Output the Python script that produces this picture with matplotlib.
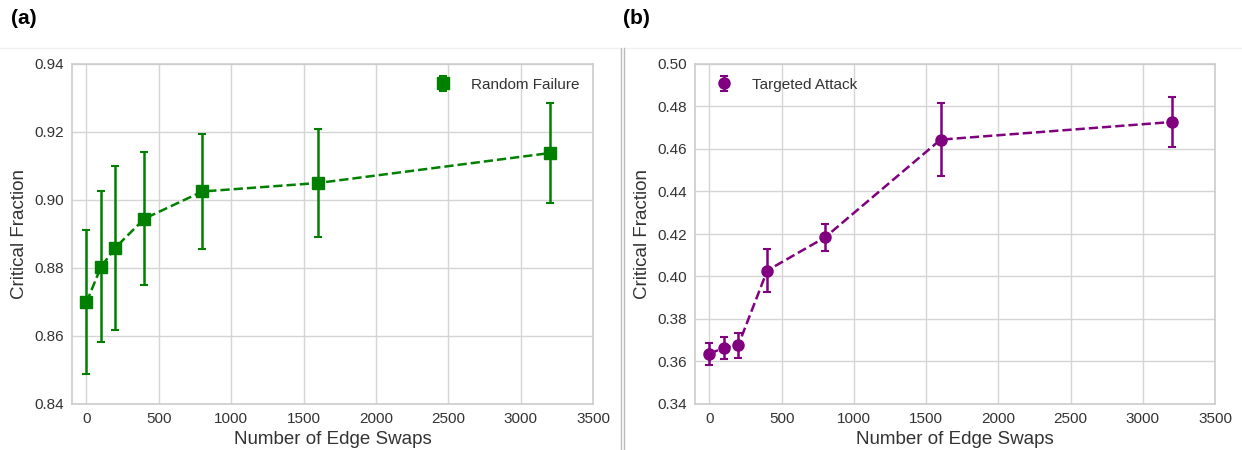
import matplotlib
matplotlib.use("Agg")
import matplotlib.pyplot as plt
from matplotlib.lines import Line2D

swaps = [0, 100, 200, 400, 800, 1600, 3200]
random_mean = [0.8699, 0.8803, 0.8860, 0.8945, 0.9025, 0.9050, 0.9138]
random_err = [0.0212, 0.0222, 0.0241, 0.0196, 0.0169, 0.0158, 0.0147]
targeted_mean = [0.3636, 0.3665, 0.3677, 0.4028, 0.4184, 0.4644, 0.4727]
targeted_err = [0.0052, 0.0052, 0.0059, 0.0102, 0.0063, 0.0172, 0.0118]

xticks = [0, 500, 1000, 1500, 2000, 2500, 3000, 3500]
yticks_a = [0.84, 0.86, 0.88, 0.90, 0.92, 0.94]
yticks_b = [0.34, 0.36, 0.38, 0.40, 0.42, 0.44, 0.46, 0.48, 0.50]

plt.rcParams['font.family'] = ['Liberation Sans', 'DejaVu Sans']

fig = plt.figure(figsize=(12.42, 4.5), dpi=100)
fig.patch.set_facecolor('white')

W, H = 1242, 450
ax_a = fig.add_axes([72 / W, 1 - 404 / H, 521 / W, 340 / H])
ax_b = fig.add_axes([695 / W, 1 - 404 / H, 520 / W, 340 / H])

def style(ax, yticks):
    ax.set_facecolor('white')
    ax.set_xlim(-100, 3500)
    ax.set_xticks(xticks)
    ax.set_yticks(yticks)
    ax.set_yticklabels([f"{v:.2f}" for v in yticks])
    ax.set_ylim(yticks[0], yticks[-1])
    ax.grid(True, color='#d5d5d5', linewidth=1.0)
    ax.set_axisbelow(True)
    for s in ax.spines.values():
        s.set_color('#cccccc')
        s.set_linewidth(1.2)
    ax.tick_params(length=0, labelsize=11, colors='#333333', pad=6)
    ax.set_xlabel('Number of Edge Swaps', fontsize=13.5, color='#333333', labelpad=3)
    ax.set_ylabel('Critical Fraction', fontsize=13.5, color='#333333', labelpad=4)

style(ax_a, yticks_a)
style(ax_b, yticks_b)

ax_a.plot(swaps, random_mean, color='green', linestyle='--', linewidth=1.8)
ax_a.errorbar(swaps, random_mean, yerr=random_err, color='green', fmt='s',
              markersize=8, capsize=3, elinewidth=1.8, capthick=1.5,
              label='Random Failure')
ax_b.plot(swaps, targeted_mean, color='purple', linestyle='--', linewidth=1.8)
ax_b.errorbar(swaps, targeted_mean, yerr=targeted_err, color='purple', fmt='o',
              markersize=8, capsize=3, elinewidth=1.8, capthick=1.5,
              label='Targeted Attack')

la = ax_a.legend(loc='upper right', frameon=False, fontsize=11)
lb = ax_b.legend(loc='upper left', frameon=False, fontsize=11)
for t in la.get_texts() + lb.get_texts():
    t.set_color('#333333')

fig.text(11 / W, 1 - 18 / H, '(a)', fontsize=15, fontweight='bold', va='center', ha='left')
fig.text(623 / W, 1 - 18 / H, '(b)', fontsize=15, fontweight='bold', va='center', ha='left')

# composite panel borders
fig.add_artist(Line2D([0, 621 / W], [1 - 47.5 / H] * 2, transform=fig.transFigure,
                      color='#f0f0f0', linewidth=1))
fig.add_artist(Line2D([624 / W, 1], [1 - 47.5 / H] * 2, transform=fig.transFigure,
                      color='#f0f0f0', linewidth=1))
for xp in (621.3, 624.3):
    fig.add_artist(Line2D([xp / W, xp / W], [0, 1 - 47.5 / H], transform=fig.transFigure,
                          color='#bbbbbb', linewidth=1))

fig.savefig('out.png', dpi=100, facecolor='white')
